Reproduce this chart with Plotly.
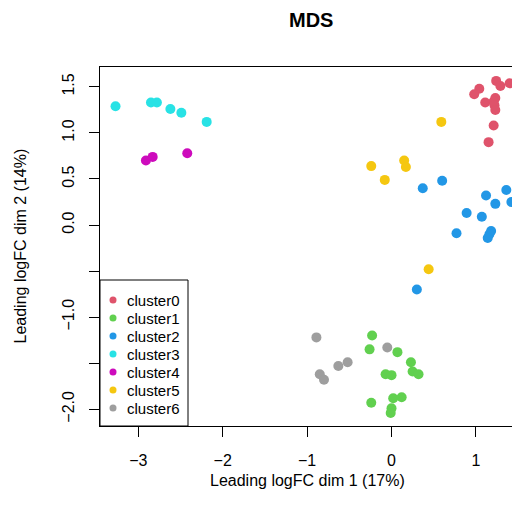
import plotly.graph_objects as go

clusters = ["cluster0", "cluster1", "cluster2", "cluster3", "cluster4", "cluster5", "cluster6"]
colors = ["#DF536B", "#61D04F", "#2297E6", "#28E2E5", "#CD0BBC", "#F5C710", "#9E9E9E"]

c0_x = [1.24, 1.29, 1.40, 1.04, 0.98, 1.11, 1.23, 1.21, 1.22, 1.23, 1.21, 1.15]
c0_y = [1.565, 1.51, 1.54, 1.48, 1.42, 1.33, 1.38, 1.34, 1.30, 1.25, 1.08, 0.90]
c1_x = [-0.23, -0.26, 0.07, 0.23, 0.25, 0.32, -0.07, 0.00, -0.24, 0.02, 0.12, 0.00, -0.01]
c1_y = [-1.20, -1.35, -1.38, -1.49, -1.59, -1.62, -1.62, -1.63, -1.93, -1.88, -1.87, -1.99, -2.04]
c2_x = [0.37, 0.60, 1.12, 1.36, 1.23, 1.42, 0.89, 1.07, 0.77, 1.18, 1.16, 1.14, 0.30]
c2_y = [0.40, 0.48, 0.32, 0.38, 0.23, 0.25, 0.13, 0.09, -0.09, -0.065, -0.10, -0.14, -0.70]
c3_x = [-3.27, -2.85, -2.78, -2.62, -2.49, -2.19]
c3_y = [1.29, 1.33, 1.33, 1.26, 1.22, 1.12]
c4_x = [-2.91, -2.83, -2.42]
c4_y = [0.70, 0.74, 0.78]
c5_x = [0.59, -0.24, 0.15, 0.17, -0.08, 0.44]
c5_y = [1.12, 0.64, 0.70, 0.63, 0.49, -0.48]
c6_x = [-0.89, -0.05, -0.52, -0.63, -0.85, -0.80]
c6_y = [-1.22, -1.33, -1.49, -1.53, -1.62, -1.68]

xs = [c0_x, c1_x, c2_x, c3_x, c4_x, c5_x, c6_x]
ys = [c0_y, c1_y, c2_y, c3_y, c4_y, c5_y, c6_y]

x_ticks = [-3, -2, -1, 0, 1]
x_ticktext = ["\u22123", "\u22122", "\u22121", "0", "1"]
y_ticks = [-2.0, -1.5, -1.0, -0.5, 0.0, 0.5, 1.0, 1.5]
y_ticktext = ["\u22122.0", "", "\u22121.0", "", "0.0", "0.5", "1.0", "1.5"]

FONT = "Liberation Sans, Arial, Helvetica, sans-serif"

# The page has an 8px body margin; size the figure so nothing overflows the window.
FIG_W, FIG_H = 504, 501
M_L, M_T, M_B = 92, 59, 83
PLOT_W = FIG_W - M_L
PLOT_H = FIG_H - M_T - M_B
LEG_W, LEG_H = 88, 146
X0 = -3.454
PX_PER_X = 84.4

fig = go.Figure()
for name, col, x, y in zip(clusters, colors, xs, ys):
    fig.add_trace(go.Scatter(x=x, y=y, mode="markers", name=name, showlegend=False,
                             marker=dict(color=col, size=10, line=dict(width=0)),
                             xaxis="x", yaxis="y"))

# Legend keys drawn on an inset axis (one row per cluster)
idx = list(range(len(clusters)))
fig.add_trace(go.Scatter(x=[0] * len(clusters), y=idx, mode="markers", showlegend=False,
                         marker=dict(color=colors, size=7, line=dict(width=0)),
                         xaxis="x2", yaxis="y2", hoverinfo="skip"))

annotations = [
    dict(text="<b>MDS</b>", x=311 - 8 - M_L, y=1 + 47 / PLOT_H, xref="x domain", yref="paper",
         showarrow=False, font=dict(size=20), xanchor="center", yanchor="middle"),
    dict(text="Leading logFC dim 1 (17%)", x=0.5, y=-54 / PLOT_H, xref="paper", yref="paper",
         showarrow=False, font=dict(size=16), xanchor="center", yanchor="middle"),
    dict(text="Leading logFC dim 2 (14%)", x=-80 / PLOT_W, y=0.5, xref="paper", yref="paper",
         showarrow=False, font=dict(size=16), textangle=-90, xanchor="center", yanchor="middle"),
]
# centre title / x-title over the reference plot box (which extends slightly past the window)
annotations[0]["x"] = (311 - 100) / PLOT_W
annotations[0]["xref"] = "paper"
annotations[1]["x"] = (307 - 100) / PLOT_W
for i, name in zip(idx, clusters):
    annotations.append(dict(text=name, x=0, y=i, xref="x2", yref="y2", xshift=12,
                            showarrow=False, font=dict(size=15), xanchor="left", yanchor="middle"))

fig.update_layout(
    width=FIG_W, height=FIG_H,
    margin=dict(l=M_L, r=0, t=M_T, b=M_B),
    paper_bgcolor="white", plot_bgcolor="white",
    font=dict(family=FONT, size=16, color="black"),
    showlegend=False,
    xaxis=dict(domain=[0, 1], range=[X0, X0 + PLOT_W / PX_PER_X], tickvals=x_ticks, ticktext=x_ticktext,
               showgrid=False, zeroline=False, showline=True, mirror=True,
               linecolor="black", linewidth=1, ticks="outside", ticklen=10,
               tickcolor="black", tickfont=dict(size=16), ticklabelstandoff=10),
    yaxis=dict(domain=[0, 1], range=[-2.182, 1.716], tickvals=y_ticks, ticktext=y_ticktext,
               showgrid=False, zeroline=False, showline=True, mirror=False,
               linecolor="black", linewidth=1, ticks="outside", ticklen=10,
               tickcolor="black", tickangle=-90, tickfont=dict(size=16), ticklabelstandoff=9),
    xaxis2=dict(domain=[0, LEG_W / PLOT_W], range=[-13, LEG_W - 13], anchor="y2",
                visible=False, fixedrange=True),
    yaxis2=dict(domain=[0, LEG_H / PLOT_H], range=[7.0, -20 / 18], anchor="x2",
                visible=False, fixedrange=True),
    shapes=[dict(type="rect", xref="paper", yref="paper", x0=0, x1=LEG_W / PLOT_W,
                 y0=0, y1=LEG_H / PLOT_H, line=dict(color="black", width=1),
                 fillcolor="rgba(0,0,0,0)", layer="above")],
    annotations=annotations,
)

fig.write_html("out.html")
